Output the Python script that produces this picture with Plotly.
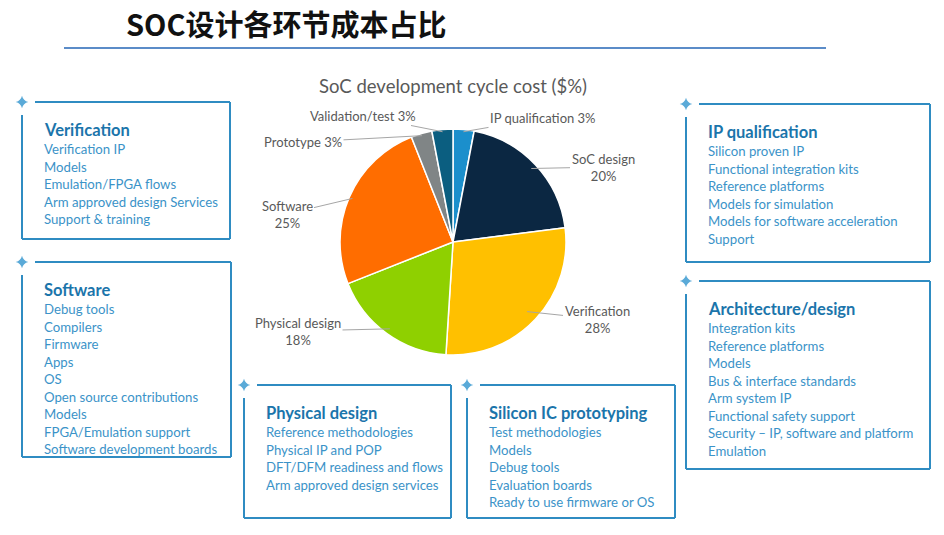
import math
import plotly.graph_objects as go

# ---------------- data ----------------
slice_labels = ["IP qualification", "SoC design", "Verification", "Physical design",
                "Software", "Prototype", "Validation/test"]
slice_values = [3, 20, 28, 18, 25, 3, 3]
slice_colors = ["#1b8fcc", "#0b2742", "#ffc000", "#8fd000", "#ff6d00", "#808586", "#0b5e80"]

box_titles = ["Verification", "Software", "IP qualification", "Architecture/design",
              "Physical design", "Silicon IC prototyping"]
box_items = [
    ["Verification IP", "Models", "Emulation/FPGA flows", "Arm approved design Services",
     "Support & training"],
    ["Debug tools", "Compilers", "Firmware", "Apps", "OS", "Open source contributions",
     "Models", "FPGA/Emulation support", "Software development boards"],
    ["Silicon proven IP", "Functional integration kits", "Reference platforms",
     "Models for simulation", "Models for software acceleration", "Support"],
    ["Integration kits", "Reference platforms", "Models", "Bus & interface standards",
     "Arm system IP", "Functional safety support", "Security – IP, software and platform",
     "Emulation"],
    ["Reference methodologies", "Physical IP and POP", "DFT/DFM readiness and flows",
     "Arm approved design services"],
    ["Test methodologies", "Models", "Debug tools", "Evaluation boards",
     "Ready to use firmware or OS"],
]

# ---------------- layout helpers (pixels) ----------------
W, H = 944, 535
# box geometry: (left, top, right, bottom)
box_geom = [
    (22, 102, 230, 239),
    (22, 262, 231, 457),
    (686, 104, 930, 262),
    (686, 281, 930, 469),
    (244, 385, 451, 518),
    (467, 385, 675, 518),
]
line_col = "#2f8cc2"
title_col = "#1b75ab"
item_col = "#3b93c8"

fig = go.Figure()

# pie geometry
cx, cy, R = 453, 242, 113
fig.add_trace(go.Pie(
    labels=slice_labels, values=slice_values, sort=False, direction="clockwise",
    rotation=0, textinfo="none", hoverinfo="label+percent",
    marker=dict(colors=slice_colors, line=dict(color="white", width=1.5)),
    domain=dict(x=[(cx - R) / W, (cx + R) / W], y=[(H - cy - R) / H, (H - cy + R) / H]),
    showlegend=False,
))

# invisible pixel axes for decorations
fig.update_layout(
    xaxis=dict(range=[0, W], visible=False, fixedrange=True),
    yaxis=dict(range=[H, 0], visible=False, fixedrange=True),
)

shapes = []
annotations = []

# header title + rule
annotations.append(dict(x=124, y=23, xref="x", yref="y", text="<b>SOC设计各环节成本占比</b>",
                        showarrow=False, xanchor="left", yanchor="middle",
                        font=dict(family="Noto Sans CJK SC", size=29, color="#111111")))
shapes.append(dict(type="line", xref="x", yref="y", x0=64, x1=826, y0=48, y1=48,
                   line=dict(color="#5b8cc8", width=2)))

# pie title
annotations.append(dict(x=453, y=86, xref="x", yref="y", text="SoC development cycle cost ($%)",
                        showarrow=False, xanchor="center", yanchor="middle",
                        font=dict(family="Lato", size=18.5, color="#595959")))

# slice labels with leader lines, tip computed from slice mid-angle
label_text = ["IP qualification 3%", "SoC design<br>20%", "Verification<br>28%",
              "Physical design<br>18%", "Software<br>25%", "Prototype 3%", "Validation/test 3%"]
label_pos = [(543, 118), (603, 167), (597, 319), (298, 331), (287, 214), (303, 142), (363, 116)]
label_tip_r = [0.98, 0.95, 0.9, 0.95, 0.97, 0.98, 0.98]
total = sum(slice_values)
cum = 0
for i, v in enumerate(slice_values):
    mid = (cum + v / 2) / total * 2 * math.pi
    cum += v
    tx = cx + R * label_tip_r[i] * math.sin(mid)
    ty = cy - R * label_tip_r[i] * math.cos(mid)
    lx, ly = label_pos[i]
    annotations.append(dict(x=tx, y=ty, xref="x", yref="y", ax=lx, ay=ly,
                            axref="x", ayref="y", text=label_text[i], showarrow=True,
                            arrowhead=0, arrowwidth=1, arrowcolor="#a6a6a6",
                            font=dict(family="Lato", size=13, color="#595959"),
                            align="center"))

# boxes
for (l, t, r, b), title, items in zip(box_geom, box_titles, box_items):
    shapes.append(dict(type="line", xref="x", yref="y", x0=l + 13, x1=r, y0=t, y1=t,
                       line=dict(color=line_col, width=2)))
    shapes.append(dict(type="line", xref="x", yref="y", x0=r, x1=r, y0=t, y1=b,
                       line=dict(color=line_col, width=2)))
    shapes.append(dict(type="line", xref="x", yref="y", x0=l, x1=r, y0=b, y1=b,
                       line=dict(color=line_col, width=2)))
    shapes.append(dict(type="line", xref="x", yref="y", x0=l, x1=l, y0=t + 13, y1=b,
                       line=dict(color=line_col, width=2)))
    fig.add_trace(go.Scatter(x=[l], y=[t], mode="markers", showlegend=False, hoverinfo="skip",
                             marker=dict(symbol="star-diamond", size=9, color="#5aaad8",
                                         line=dict(width=0))))
    annotations.append(dict(x=l + 20, y=t + 28, xref="x", yref="y", text="<b>" + title + "</b>",
                            showarrow=False, xanchor="left", yanchor="middle",
                            font=dict(family="Lato", size=16.5, color=title_col)))
    for k, it in enumerate(items):
        annotations.append(dict(x=l + 20, y=t + 47 + k * 17.5, xref="x", yref="y", text=it,
                                showarrow=False, xanchor="left", yanchor="middle",
                                font=dict(family="Lato", size=13.2, color=item_col)))

fig.update_layout(
    width=W, height=H, margin=dict(l=0, r=0, t=0, b=0),
    paper_bgcolor="white", plot_bgcolor="white",
    shapes=shapes, annotations=annotations, showlegend=False,
)

fig.write_html("out.html")
